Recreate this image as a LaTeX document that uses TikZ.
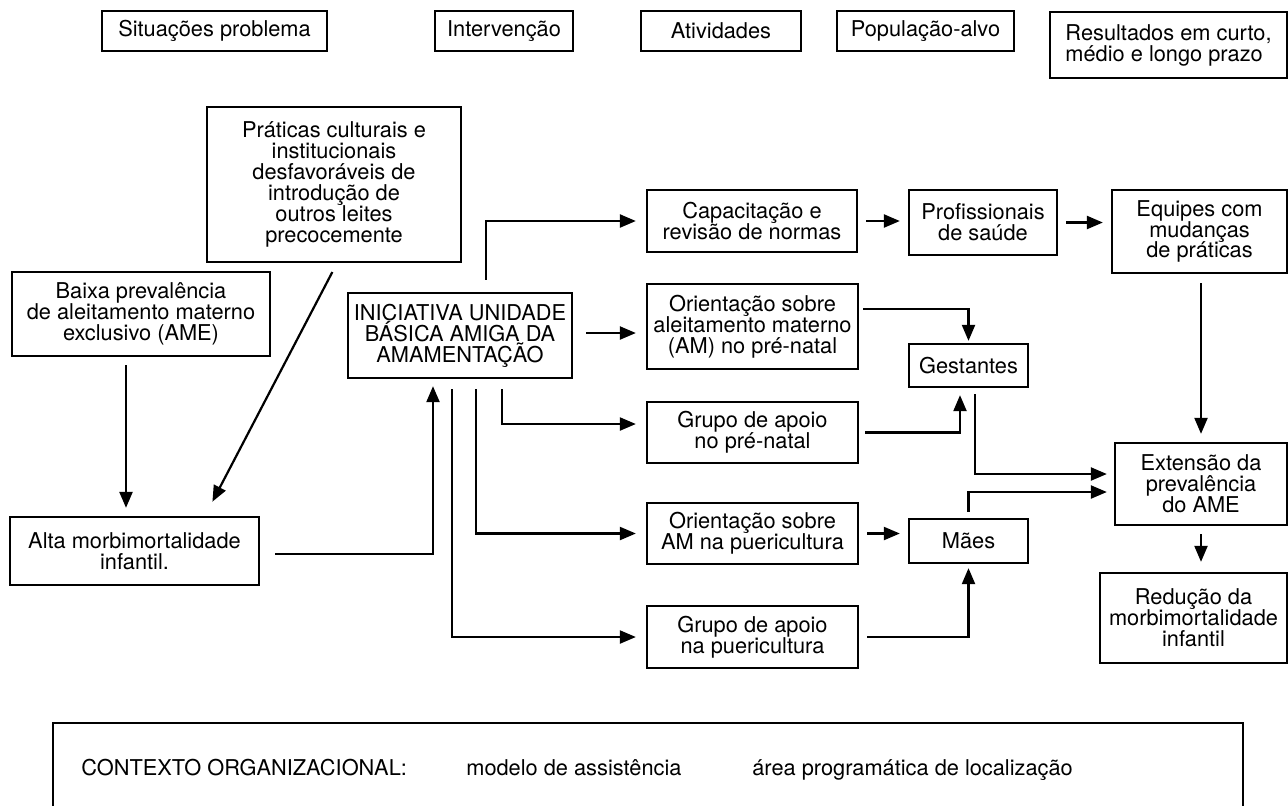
\documentclass[tikz,border=0pt]{standalone}
\usepackage{fontspec}
\setmainfont{TeX Gyre Heros}
\usetikzlibrary{arrows.meta}

\tikzset{
  box/.style={draw, shape=rectangle, line width=1.3pt, align=center, inner sep=0pt,
              font=\fontsize{12.4}{11.9}\selectfont},
  sz/.style 2 args={minimum width=#1*0.02cm, minimum height=#2*0.02cm},
  arr/.style={line width=1.25pt, -{Triangle[length=3.2mm,width=2.6mm]},
              shorten <=0.16cm, shorten >=0.16cm},
  lbl/.style={anchor=base west, inner sep=0pt, font=\fontsize{12.4}{11.9}\selectfont}
}

\begin{document}
\begin{tikzpicture}[x=0.02cm, y=-0.02cm]
   \useasboundingbox (0,0) rectangle (1288,805);

   \path (214.5,31) node[box,sz={225}{40}] (sit) {Situações problema};
   \path (504,31) node[box,sz={138}{40}] (interv) {Intervenção};
   \path (721,31) node[box,sz={160}{40}] (ativ) {Atividades};
   \path (925.5,31) node[box,sz={177}{40}] (pop) {População-alvo};
   \path (1168.5,45) node[box,sz={237}{66},align=left] (result)
     {Resultados em curto,\\médio e longo prazo};

   \path (334,184.5) node[box,sz={254}{155}] (praticas)
     {Práticas culturais e\\institucionais\\desfavoráveis de\\introdução de\\outros leites\\precocemente};
   \path (141,314) node[box,sz={258}{84}] (baixa)
     {Baixa prevalência\\de aleitamento materno\\exclusivo (AME)};
   \path (134.5,551) node[box,sz={249}{68}] (alta)
     {Alta morbimortalidade\\infantil.};
   \path (460,335.5) node[box,sz={224}{85}] (ini)
     {INICIATIVA UNIDADE\\BÁSICA AMIGA DA\\AMAMENTAÇÃO};

   \path (752,221) node[box,sz={210}{62}] (cap)
     {Capacitação e\\revisão de normas};
   \path (752.5,326.5) node[box,sz={211}{85}] (orpre)
     {Orientação sobre\\aleitamento materno\\(AM) no pré-natal};
   \path (752.5,432.5) node[box,sz={211}{61}] (grupre)
     {Grupo de apoio\\no pré-natal};
   \path (752.5,533.5) node[box,sz={211}{61}] (orpue)
     {Orientação sobre\\AM na puericultura};
   \path (752.5,637) node[box,sz={211}{62}] (grupue)
     {Grupo de apoio\\na puericultura};

   \path (983,222.5) node[box,sz={148}{65}] (prof) {Profissionais\\de saúde};
   \path (968.5,365.5) node[box,sz={119}{43}] (gest) {Gestantes};
   \path (968.5,541) node[box,sz={119}{44}] (maes) {Mães};

   \path (1199.5,231.5) node[box,sz={175}{83}] (equipes)
     {Equipes com\\mudanças\\de práticas};
   \path (1201,484) node[box,sz={172}{82}] (ext)
     {Extensão da\\prevalência\\do AME};
   \path (1193.5,618) node[box,sz={187}{90}] (red)
     {Redução da\\morbimortalidade\\infantil};

   \path (648,786.5) node[box,sz={1190}{127}] (contexto) {};
   \path (81,775) node[lbl] (org) {CONTEXTO ORGANIZACIONAL:};
   \path (466,775) node[lbl] (modelo) {modelo de assistência};
   \path (752,775) node[lbl] (area) {área programática de localização};

   \coordinate (ba) at (126,440);
   \coordinate (dtop) at (337,0);
   \coordinate (dbot) at (205,0);
   \coordinate (ai) at (433,554);
   \coordinate (ic) at (486,221);
   \coordinate (io) at (0,333);
   \coordinate (ig) at (502,424);
   \coordinate (iu) at (476,0);
   \coordinate (iv) at (452,0);
   \coordinate (og) at (0,309);
   \coordinate (gg) at (960,0);
   \coordinate (ge) at (975,474);
   \coordinate (me) at (0,492);

   \draw[arr] (baixa.south -| ba) -- (alta.north -| ba);
   \draw[arr,shorten <=0.2cm,shorten >=0.32cm] (praticas.south -| dtop) -- (alta.north -| dbot);
   \draw[arr,shorten <=0.3cm,shorten >=0.14cm] (alta.east |- ai) -| (ini.south -| ai);

   \draw[arr,shorten <=0.24cm,shorten >=0.2cm] (ini.north -| ic) |- (cap.west);
   \draw[arr,shorten <=0.26cm,shorten >=0.2cm] (ini.east |- io) -- (orpre.west |- io);
   \draw[arr,shorten <=0.2cm,shorten >=0.2cm] (ini.south -| ig) |- (grupre.west |- ig);
   \draw[arr,shorten <=0.2cm,shorten >=0.2cm] (ini.south -| iu) |- (orpue.west);
   \draw[arr,shorten <=0.2cm,shorten >=0.2cm] (ini.south -| iv) |- (grupue.west);

   \draw[arr] (cap.east) -- (cap.east -| prof.west);
   \draw[arr] (prof.east) -- (prof.east -| equipes.west);
   \draw[arr,shorten <=0.18cm] (equipes.south -| ext.north) -- (ext.north);
   \draw[arr,shorten >=0.2cm] (ext.south) -- (ext.south |- red.north);

   \draw[arr,shorten <=0.08cm,shorten >=0.04cm] (orpre.east |- og) -| (gest.north);
   \draw[arr,shorten <=0.12cm,shorten >=0.14cm] (grupre.east) -| (gest.south -| gg);
   \draw[arr,shorten <=0.12cm,shorten >=0.14cm] (gest.south -| ge) |- (ext.west |- ge);
   \draw[arr,shorten <=0.12cm,shorten >=0.14cm] (maes.north) |- (ext.west |- me);
   \draw[arr] (orpue.east) -- (orpue.east -| maes.west);
   \draw[arr,shorten >=0.08cm] (grupue.east) -| (maes.south);
\end{tikzpicture}
\end{document}
